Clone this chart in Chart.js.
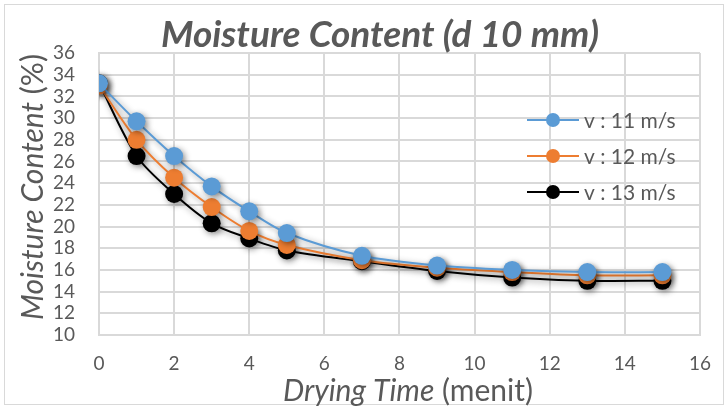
<!DOCTYPE html>
<html>
<head>
<meta charset="utf-8">
<script src="https://cdn.jsdelivr.net/npm/chart.js@4/dist/chart.umd.min.js"></script>
<style>
html,body{margin:0;padding:0;background:#fff;}
#wrap{position:relative;width:728px;height:409px;}
</style>
</head>
<body>
<div id="wrap"><canvas id="c" width="728" height="409"></canvas></div>
<script>
const dryingTime = [0, 1, 2, 3, 4, 5, 7, 9, 11, 13, 15];
const v11 = [33.2, 29.7, 26.5, 23.7, 21.4, 19.4, 17.3, 16.4, 16.0, 15.8, 15.8];
const v12 = [33.0, 28.0, 24.5, 21.8, 19.6, 18.3, 16.9, 16.2, 15.8, 15.5, 15.5];
const v13 = [33.2, 26.5, 23.0, 20.3, 18.9, 17.8, 16.8, 15.9, 15.3, 15.0, 15.0];
const seriesLabels = ['v : 11 m/s', 'v : 12 m/s', 'v : 13 m/s'];
const chartTitle = 'Moisture Content (d 10 mm)';
const yTitleItalic = 'Moisture Content';
const yTitleNormal = ' (%)';
const xTitleItalic = 'Drying Time';
const xTitleNormal = ' (menit)';

const colors = ['#5B9BD5', '#ED7D31', '#000000'];
const FONT = 'Lato, "Open Sans", sans-serif';
const TXT = '#595959';

function pts(arr){ return dryingTime.map((x,i)=>({x:x, y:arr[i]})); }

const datasets = [v11, v12, v13].map((arr,i)=>({
  label: seriesLabels[i],
  data: pts(arr),
  borderColor: colors[i],
  backgroundColor: colors[i],
  borderWidth: 2,
  pointRadius: 9,
  pointHoverRadius: 9,
  pointBorderWidth: 0,
  tension: 0.3
}));

const decor = {
  id: 'decor',
  beforeDatasetsDraw(chart){
    const ctx = chart.ctx;
    ctx.save();
    ctx.shadowColor = 'rgba(0,0,0,0.45)';
    ctx.shadowBlur = 6;
    ctx.shadowOffsetX = 2;
    ctx.shadowOffsetY = 2;
  },
  afterDatasetsDraw(chart){
    chart.ctx.restore();
  },
  afterDraw(chart){
    const ctx = chart.ctx;
    ctx.save();
    ctx.strokeStyle = '#d9d9d9';
    ctx.lineWidth = 1;
    ctx.strokeRect(4.5, 4.5, 719, 400);
    ctx.fillStyle = TXT;
    ctx.font = 'italic bold 37px ' + FONT;
    ctx.textAlign = 'center';
    ctx.textBaseline = 'middle';
    ctx.fillText(chartTitle, 380, 35);
    // x title
    const tf = 30;
    ctx.font = 'italic ' + tf + 'px ' + FONT;
    const w1 = ctx.measureText(xTitleItalic).width;
    ctx.font = tf + 'px ' + FONT;
    const w2 = ctx.measureText(xTitleNormal).width;
    let sx = 408 - (w1+w2)/2;
    ctx.textAlign = 'left';
    ctx.font = 'italic ' + tf + 'px ' + FONT;
    ctx.fillText(xTitleItalic, sx, 391);
    ctx.font = tf + 'px ' + FONT;
    ctx.fillText(xTitleNormal, sx + w1, 391);
    // y title
    ctx.translate(33, 187);
    ctx.rotate(-Math.PI/2);
    ctx.font = 'italic ' + tf + 'px ' + FONT;
    const h1 = ctx.measureText(yTitleItalic).width;
    ctx.font = tf + 'px ' + FONT;
    const h2 = ctx.measureText(yTitleNormal).width;
    let sy = -(h1+h2)/2;
    ctx.font = 'italic ' + tf + 'px ' + FONT;
    ctx.fillText(yTitleItalic, sy, 0);
    ctx.font = tf + 'px ' + FONT;
    ctx.fillText(yTitleNormal, sy + h1, 0);
    ctx.restore();
    // legend
    ctx.save();
    const lx = 527, ly0 = 120, dy = 36;
    chart.data.datasets.forEach((ds, i) => {
      const y = ly0 + i*dy;
      ctx.strokeStyle = ds.borderColor;
      ctx.lineWidth = 2;
      ctx.beginPath();
      ctx.moveTo(lx, y); ctx.lineTo(lx+52, y); ctx.stroke();
      ctx.fillStyle = ds.backgroundColor;
      ctx.beginPath();
      ctx.arc(lx+26, y, 7, 0, Math.PI*2); ctx.fill();
      ctx.fillStyle = TXT;
      ctx.font = '21px ' + FONT;
      ctx.textAlign = 'left';
      ctx.textBaseline = 'middle';
      ctx.fillText(ds.label, lx+57, y + 1);
    });
    ctx.restore();
  }
};

new Chart(document.getElementById('c'), {
  type: 'line',
  data: { datasets },
  options: {
    responsive: false,
    animation: false,
    devicePixelRatio: 1,
    layout: { padding: { top: 53, right: 23, left: 0, bottom: 0 } },
    plugins: { legend: { display: false }, tooltip: { enabled: false }, title: { display: false } },
    scales: {
      x: {
        type: 'linear', min: 0, max: 16,
        ticks: { stepSize: 2, autoSkip: false, color: TXT, font: { family: FONT, size: 19 }, padding: 17 },
        grid: { color: '#d9d9d9', lineWidth: 2, drawTicks: false },
        border: { color: '#d9d9d9', width: 2 },
        afterFit(s){ s.height = 74; }
      },
      y: {
        min: 10, max: 36,
        ticks: { stepSize: 2, autoSkip: false, color: TXT, font: { family: FONT, size: 19 }, padding: 24 },
        grid: { color: '#d9d9d9', lineWidth: 2, drawTicks: false },
        border: { color: '#d9d9d9', width: 2 },
        afterFit(s){ s.width = 99; }
      }
    }
  },
  plugins: [decor]
});
</script>
</body>
</html>
